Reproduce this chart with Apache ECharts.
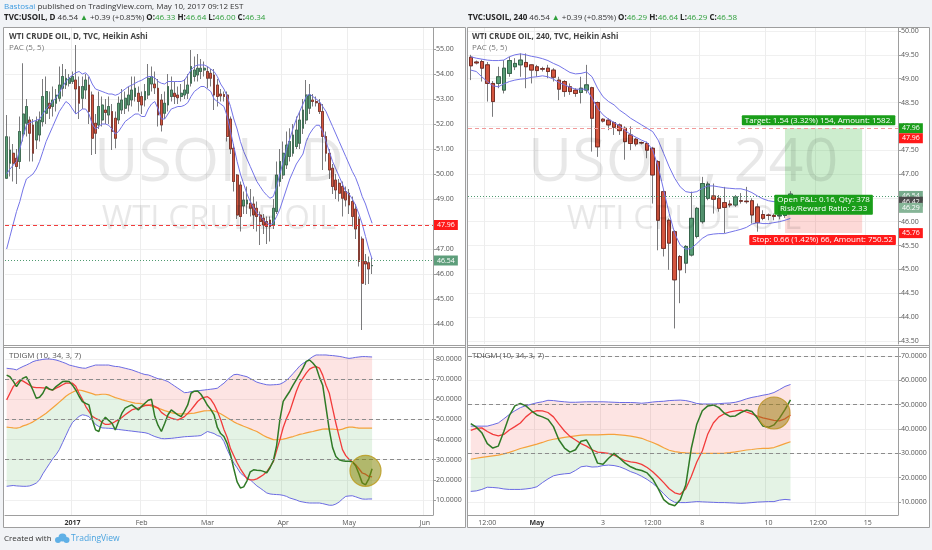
<!DOCTYPE html>
<html><head><meta charset="utf-8">
<script src="https://cdn.jsdelivr.net/npm/echarts@6.0.0/dist/echarts.min.js"></script>
<style>html,body{margin:0;padding:0;background:#f1f3f6;}#c{width:932px;height:550px;}</style>
</head><body><div id="c"></div>
<script>
// ---------- DAILY (left) ----------
const dDays = {
 '2016-12':[2,5,6,7,8,9,12,13,14,15,16,19,20,21,22,23,27,28,29,30],
 '2017-01':[3,4,5,6,9,10,11,12,13,16,17,18,19,20,23,24,25,26,27,30,31],
 '2017-02':[1,2,3,6,7,8,9,10,13,14,15,16,17,20,21,22,23,24,27,28],
 '2017-03':[1,2,3,6,7,8,9,10,13,14,15,16,17,20,21,22,23,24,27,28,29,30,31],
 '2017-04':[3,4,5,6,7,10,11,12,13,14,17,18,19,20,21,24,25,26,27,28],
 '2017-05':[1,2,3,4,5,8,9,10,11,12,15,16,17,18,19,22,23,24,25,26,29,30,31],
 '2017-06':[1,2,5]
};
const dMonthLabel = {'2017-01':'2017','2017-02':'Feb','2017-03':'Mar','2017-04':'Apr','2017-05':'May','2017-06':'Jun'};
const dBoldLabels = ['2017'];
// [open, close, low, high]
const dCandles = [
[49.83,51.49,49.8,52.36],[50.43,50.96,49.9,51.5],[50.83,50.43,49.7,51.2],[50.63,50.3,49.6,51.0],[50.5,51.7,50.2,52.3],
[51.6,52.4,51.3,54.43],[52.03,52.7,51.5,53.0],[52.16,51.63,50.5,52.3],[51.96,50.83,50.5,52.2],[51.36,52.09,51.0,52.3],
[51.56,52.16,51.3,52.5],[52.09,53.1,51.9,53.8],[52.43,53.3,52.0,53.9],[52.83,52.63,52.2,53.3],[52.7,52.96,52.3,53.5],
[52.83,53.16,52.5,53.4],[53.03,53.56,52.9,54.3],[53.43,53.9,53.1,54.4],[53.56,53.83,53.4,54.2],[53.63,53.83,53.5,54.0],
[53.7,53.9,53.6,54.1],[53.76,53.4,52.4,55.16],[53.5,52.83,52.2,53.9],[53.03,53.5,52.6,53.9],[53.36,53.76,53.0,54.0],
[53.56,52.5,52.0,53.9],[53.16,51.43,50.76,53.3],[52.03,51.63,50.8,52.4],[51.96,52.7,51.8,53.3],[52.16,52.76,51.9,53.1],
[52.56,52.46,52.0,53.0],[52.36,52.7,52.0,53.1],[52.5,51.7,50.96,52.8],[52.23,51.43,51.03,52.5],[52.16,52.83,52.0,53.1],
[52.56,52.96,52.4,53.4],[52.63,53.03,52.4,53.3],[52.76,53.16,52.5,53.5],[52.96,53.36,52.7,53.9],[53.1,53.43,52.9,53.9],
[53.23,52.9,52.5,53.5],[53.1,52.76,52.4,53.3],[52.96,53.3,52.7,53.6],[53.16,53.83,53.0,54.4],[53.6,53.9,53.3,54.3],
[53.6,53.45,53.2,54.1],[53.43,52.36,51.9,53.8],[52.96,51.96,51.7,53.2],[52.43,52.83,52.2,53.3],[52.76,53.5,52.5,54.0],
[53.1,53.36,52.9,53.9],[53.23,53.1,52.8,53.7],[53.16,53.05,52.8,53.5],[53.1,53.23,52.9,53.6],[53.16,53.36,53.0,53.8],
[53.23,53.56,53.0,54.0],[53.63,54.3,53.5,54.96],[53.9,54.16,53.7,54.7],[53.96,54.23,53.7,54.8],[54.1,54.23,53.8,54.6],
[54.16,54.23,53.9,54.5],[54.1,53.83,53.43,54.3],[54.03,53.83,53.5,54.2],[53.96,53.16,52.56,54.2],[53.56,53.1,52.7,53.8],
[53.2,53.12,52.9,53.4],[53.18,53.1,52.9,53.3],[53.16,51.5,51.3,53.3],[52.2,51.0,50.8,52.3],[51.03,49.7,49.3,51.2],
[49.96,48.36,48.2,50.0],[49.56,48.3,47.7,49.7],[48.72,48.96,48.4,49.3],[48.8,48.96,48.4,49.5],[48.83,48.63,48.3,49.4],
[48.8,48.36,47.8,49.1],[48.63,48.3,47.7,48.9],[48.36,48.1,47.16,48.5],[48.23,47.96,47.6,48.4],[48.1,47.9,47.2,48.3],
[48.16,47.9,47.3,48.3],[47.96,48.63,47.8,49.0],[48.5,49.96,48.4,50.5],[49.7,50.5,49.5,51.0],[49.96,50.83,49.8,51.3],
[50.36,51.16,50.2,51.7],[50.7,51.3,50.5,51.83],[50.83,51.56,50.7,52.0],[51.1,51.76,51.0,52.3],[51.23,52.16,51.0,52.5],
[51.83,52.56,51.6,53.0],[52.16,53.16,52.0,53.76],[52.63,53.16,52.4,53.6],[52.96,52.9,52.7,53.2],[52.9,52.85,52.7,53.1],
[52.83,52.5,52.4,53.0],[52.5,51.5,50.16,52.8],[51.5,50.83,50.5,51.7],[50.83,50.16,49.8,51.0],[50.23,49.5,49.2,50.4],
[49.76,49.36,49.0,50.0],[49.63,49.23,48.9,49.8],[49.5,49.03,48.3,49.7],[49.3,48.96,48.7,49.5],[49.23,48.76,48.4,49.4],
[48.9,48.3,47.9,49.1],[48.6,47.8,47.4,48.8],[48.2,46.5,46.3,48.3],[47.4,45.63,43.76,47.5],[46.5,46.4,45.56,46.8],
[46.45,46.2,45.6,46.7],[46.33,46.34,46.0,46.64]
];
const dPacHi = [50.0,50.2,50.35,50.5,51.0,51.5,51.95,52.05,52.1,52.15,52.2,52.4,52.6,52.75,52.9,53.05,53.25,53.5,53.7,53.85,
53.95,54.05,54.1,54.0,54.05,53.9,53.6,53.4,53.35,53.3,53.25,53.2,53.2,53.15,53.2,53.3,53.4,53.5,53.55,53.63,
53.7,53.75,53.83,53.9,53.9,53.85,53.7,53.63,53.6,53.7,53.7,53.7,53.7,53.7,53.75,53.95,54.16,54.3,54.36,54.36,
54.36,54.3,54.2,54.1,53.9,53.6,53.4,53.1,52.7,52.2,51.8,51.3,50.9,50.6,50.3,50.0,49.7,49.5,49.3,49.15,
49.03,49.1,49.5,50.0,50.5,51.0,51.4,51.83,52.2,52.5,52.8,53.1,53.2,53.1,53.0,52.9,52.7,52.5,52.2,51.9,
51.6,51.3,51.0,50.7,50.4,50.1,49.85,49.5,49.1,48.8,48.4,48.03];
const dPacLo = [47.0,47.5,48.0,48.5,48.9,49.4,49.8,49.9,50.0,50.2,50.5,50.9,51.3,51.6,51.9,52.2,52.5,52.7,52.9,52.8,
52.6,52.4,52.5,52.6,52.6,52.4,52.0,51.8,51.9,52.0,52.0,51.95,51.8,51.6,51.7,51.9,52.1,52.2,52.3,52.4,
52.4,52.3,52.3,52.6,52.8,52.9,52.6,52.2,52.2,52.4,52.6,52.65,52.7,52.7,52.75,52.85,53.1,53.3,53.4,53.5,
53.5,53.4,53.3,53.0,52.9,52.8,52.7,52.3,51.7,51.1,50.5,50.0,49.6,49.2,48.9,48.65,48.45,48.3,48.15,48.05,
47.96,48.05,48.3,48.6,49.0,49.4,49.8,50.1,50.4,50.6,50.8,51.3,51.6,51.8,51.95,51.95,51.7,51.3,50.9,50.5,
50.2,49.9,49.6,49.3,49.2,49.0,48.75,48.4,48.0,47.5,47.0,46.6];
// TDI (daily)
const dUp = [75.4,75.2,75,74.6,75.5,76.3,77,77.8,78.7,79.2,79.5,79.8,80,80,79.8,79.5,79,78.4,77.8,77,
76.6,76.2,75.8,75.5,75.4,76,76.5,77,77,77,77,77,76.6,76.3,76.2,75.8,75.4,75,74.6,74,
73.4,72.8,72.3,72.1,71.5,70.8,70.2,70,69.4,68.8,67.7,66.6,65.5,64.4,63.3,63.4,63.8,64,64.2,64.4,
64.6,64.8,65,65.2,65.5,66.8,68,69.6,71,72.2,72.4,72,71.6,71.2,70.3,69.4,68.5,68,67.6,67.2,
67.1,67.2,67.3,67.5,68.3,69.4,71,72.8,74.6,76.5,77.8,78.7,80,81.2,82,82,82,82,81.8,81.7,
81.5,81.3,81,80.6,80.3,80.5,80.8,81,81.2,81.2,81.1,81];
const dLo = [16.8,17,17.2,17,16.9,16.8,16.8,17,17.6,18.4,20,23,25.5,28,30.5,32.5,35,38.5,42,45.5,
48.5,50,51.5,52.3,52,51.4,49.5,47.5,46.5,45.8,45.7,45.6,45.5,45.2,45,44.8,44.6,44.4,44.2,44,
43.8,43.6,43.4,43,42.2,41.5,41,40.5,40.4,40.5,40.6,40.8,41,41.2,41.4,41.5,41.6,41.7,41.8,42,
43,44,43.5,43,42,41.5,39,35,31.5,28.3,26,23.4,22,21,20,18.5,17,15.9,14.7,13.5,
13,12.8,12.7,12.6,12.3,11.8,11,10.5,10,9.3,9,8.7,8.5,8.5,8.5,8.5,8.2,7.8,7.4,7.4,
8,9,10.5,11.8,12,12.1,11.6,11,10.5,10.4,10.5,10.5];
const dMid = [46.2,46,45.8,45.7,46,46.8,47.3,48,48.8,49.8,50.8,52,53.1,54.4,55.8,57.2,58.6,60,61.5,62.6,
63.5,64.3,64.6,64.3,63.8,63.3,62.8,62.2,62.3,62.5,62.5,62.2,61.5,60.8,60.4,59.8,59.3,58.9,58.5,58.1,
58,57.8,57.4,57.2,56.6,56,55.6,55,54.4,53.9,53.4,53,52.8,52.8,52.8,52.8,53,53.1,53.5,53.9,
54.2,54.3,54.4,54.2,53.6,52.8,51.8,50.8,49.8,48.8,48,47.3,46.6,46,45.3,44.6,44,43,42,41.2,
40.6,40,39.9,40,40.2,40.6,41.1,41.5,42,42.6,42.9,43.3,43.7,44,44.4,44.8,45.2,45.3,45.2,45.2,
45,44.8,45.2,45.8,46.2,46.2,45.9,45.7,45.7,45.7,45.7,45.7];
const dSig = [59.7,63,66.3,68,69.6,69,68,67,66,65.8,65.8,65.7,65.5,65,64.6,65.5,66.3,67.2,68,68,
68,66.5,63,60,56.5,54,51.5,50.6,49.8,48.5,47.5,47.5,48,49,49.8,51,52.3,53.5,54.7,55.2,
55.6,56.2,56.8,57,57.2,56.5,55.6,53.5,52.3,51.3,50.6,50.2,49.8,50.5,51.4,53,54.7,56.8,58.9,60.3,
61,61.3,60,57.5,54,50,45,41,35.5,32,28.5,25.5,23,20.5,20,20,20.5,21.5,22.5,24,
26.5,29,34.5,40,46,50.5,54,59,64,68,70.5,73,75,75.8,76.2,75.5,72,67,63,55.5,
48.1,41.5,35,32,30.2,29,27.5,25.5,23.4,22.8,21.7,21.5];
const dRsi = [72,71.2,69,66.3,68.8,70.5,71.2,68,64.5,60.5,61,63,66.3,65,64.6,66.3,67.5,68.8,69,68.8,
67,64.6,61.5,58.9,58,57.2,50,44.8,44,49,51.1,49.5,48.1,44.8,49,53.1,55.6,56.5,57.2,56,
54.7,56.5,58,59.5,60,51.4,47,44,48,52.3,54.7,53.5,52.3,51.4,54,57.2,63,64,64.1,62.5,
59.9,57,55,52.3,46,43,41.5,38,32.5,25.5,19,16,16.5,19.5,24,25,24.8,24.7,24.2,23.5,
26,29.5,37,50,59,61.5,64,67,69.8,72.5,75.5,78.8,79.5,78,76,71,67,56,44.8,36,
31.6,30,29.5,29.2,29.2,29,27,23,18.5,17.5,20.5,25.5];
const dPriceTicks = [44,45,46,47,48,49,50,51,52,53,54,55];
const dIndTicks = [10,20,30,40,50,60,70,80];

// ---------- 240 min (right) ----------
const rDays = ['04-27','04-28','05-01','05-02','05-03','05-04','05-05','05-08','05-09','05-10','05-11','05-12','05-15'];
const rHours = ['00:00','04:00','08:00','12:00','16:00','20:00'];
const rTickLabels = {'2017-04-27 12:00':'12:00','2017-05-01 00:00':'May','2017-05-03 00:00':'3','2017-05-04 12:00':'12:00',
 '2017-05-08 00:00':'8','2017-05-10 00:00':'10','2017-05-11 12:00':'12:00','2017-05-15 00:00':'15'};
const rBoldLabels = ['May'];
const rCandles = [
[49.45,49.27,48.97,49.5],[49.35,49.33,49.3,49.38],[49.36,49.22,48.94,49.4],[49.29,48.9,48.52,49.35],[48.9,48.52,48.2,48.95],
[48.9,49.04,48.8,49.25],[48.76,49.22,48.69,49.39],[49.11,49.38,49.04,49.46],[49.25,49.32,49.18,49.43],[49.29,49.39,49.04,49.53],
[49.34,49.25,48.8,49.53],[49.29,49.18,48.9,49.3],[49.25,49.17,49.04,49.29],[49.21,49.2,49.15,49.25],[49.22,49.15,49.01,49.29],
[49.18,49.03,48.94,49.22],[48.97,48.78,48.55,49.04],[48.94,48.73,48.62,48.97],[48.83,48.73,48.66,48.9],[48.76,48.69,48.62,48.8],
[48.71,48.8,48.48,49.04],[48.76,48.87,48.69,49.29],[48.81,48.17,47.47,48.83],[48.5,47.57,47.36,48.52],[48.15,48.11,48.08,48.17],
[48.13,48.03,47.92,48.17],[48.08,47.98,47.82,48.1],[48.03,47.91,47.82,48.06],[47.96,47.68,47.3,48.0],[47.82,47.64,47.5,48.0],
[47.73,47.63,47.58,47.76],[47.66,47.65,47.62,47.68],[47.64,47.5,47.33,47.68],[47.54,46.98,46.38,47.57],[47.26,46.03,45.4,47.29],
[46.63,45.44,45.27,46.66],[46.03,45.55,44.99,46.07],[45.79,44.78,43.76,45.82],[45.27,44.99,44.29,45.3],[45.13,45.48,44.92,45.51],
[45.3,46.07,45.27,46.63],[45.69,46.28,45.65,46.31],[46.0,46.8,45.96,46.94],[46.49,46.79,46.45,46.84],[46.54,46.47,46.17,46.8],
[46.49,46.28,46.21,46.56],[46.4,46.3,45.76,46.73],[46.37,46.35,46.3,46.45],[46.35,46.52,46.31,46.56],[46.44,46.43,46.38,46.6],
[46.43,46.42,46.38,46.73],[46.44,46.14,45.96,46.49],[46.31,45.98,45.79,46.38],[46.15,46.07,46.03,46.24],[46.14,46.13,46.03,46.17],
[46.13,46.11,46.03,46.17],[46.12,46.14,46.05,46.2],[46.13,46.22,46.08,46.3],[46.29,46.58,46.29,46.64]
];
const rPacHi = [49.46,49.43,49.41,49.39,49.38,49.38,49.39,49.46,49.5,49.52,49.5,49.47,49.45,49.42,49.38,49.32,49.27,49.2,49.13,49.1,
49.11,49.14,49.04,48.8,48.62,48.52,48.45,48.34,48.26,48.17,48.1,48.03,47.96,47.89,47.71,47.43,47.15,46.91,46.73,46.63,
46.61,46.63,46.7,46.75,46.75,46.73,46.71,46.7,46.69,46.69,46.66,46.61,46.54,46.48,46.44,46.42,46.42,46.43,46.45];
const rPacLo = [49.18,49.15,49.04,48.94,48.85,48.83,48.89,48.94,48.97,48.99,49.0,49.03,49.04,49.06,49.04,48.99,48.92,48.87,48.82,48.78,
48.78,48.78,48.59,48.38,48.24,48.15,48.08,48.01,47.91,47.83,47.77,47.71,47.66,47.5,47.15,46.66,46.17,45.75,45.51,45.42,
45.44,45.54,45.65,45.72,45.74,45.75,45.75,45.78,45.81,45.84,45.88,45.95,45.98,45.96,45.96,45.98,46.0,46.03,46.07];
const rUp = [41.2,41.2,41.2,41.2,41.8,42.5,44.2,46,47.5,48.8,49.6,50.2,50.8,51.2,51.8,51.7,51.4,51.2,51,51,
51.1,51.2,51.2,51.2,51.2,51.1,51,50.9,50.9,50.9,50.8,50.6,50.8,51.1,51.3,51.4,51.7,51.8,51.9,51.7,
51.2,50.5,50.3,50.3,50.3,50.4,50.6,50.7,51,51.6,52.4,53,53.4,53.9,54.3,55,56.2,57.5,58.3];
const rLo = [14.4,14.6,15.2,16.1,16,15.8,15.4,15.2,15.2,15.2,15.4,15.7,16.3,18,19.5,20.8,21.3,21.6,21.8,23,
24.5,24.8,24.4,24.5,25,25.2,25,24.5,23.6,22.5,21.7,20.6,19.3,17.7,15.8,13.4,11.2,9.9,9.8,9.8,
10,10.2,10.1,10,9.9,9.8,9.8,9.7,9.6,9.5,9.6,9.8,10,10.1,10.2,10.2,10.8,11.1,10.9];
const rMid = [27.6,28,28.4,28.7,29,29.3,29.8,30.4,31.2,32,32.6,33.2,33.8,34.5,35.3,35.8,36.2,36.6,36.9,37.2,
37.5,37.6,37.6,37.6,37.7,37.8,37.8,37.6,37.4,37.1,36.7,36.2,35.3,34.5,33.5,32.3,31.3,30.7,30.4,30.2,
30.1,30,30,30,30,30,30.1,30.3,30.6,31,31.4,31.6,31.9,32.1,32.1,32.4,33.2,34,34.8];
const rSig = [39.5,40.3,40.5,39,37.8,37.2,37.8,39.6,41,42.5,45,46.8,47.6,47.5,46.8,45,42,39.2,37,35.5,
34,33,31.5,30.5,30.3,30,29.3,28.2,27,26.5,26.2,25.5,24.2,22.5,20.3,18,15.5,13.8,13.2,15.5,
20.5,26.5,31,38,42.5,45,46.3,47.1,47.5,47.8,47,46.2,45.3,44.6,44.1,43.6,43.4,44.2,45.8];
const rRsi = [42.2,40.8,38.5,34,32.2,33,39,45.5,49.5,50.5,49.5,47.5,45.8,45,44,41,35.5,32.2,30.5,31.5,
35,35.5,31.5,26,25.5,28,30,28,26,24.5,23.5,23,22,19.5,15.5,11,9.2,8.5,11,17,
32,42,47.5,49.5,49.9,48.8,46.5,45.2,45.4,46.8,47.8,47.2,44.5,41.2,40.7,41.7,44.5,48,52];
const rPriceTicks = [43.5,44,44.5,45,45.5,46,46.5,47,47.5,48,48.5,49,49.5,50];
const rIndTicks = [10,20,30,40,50,60,70];

// position tool values (right)
const posTarget = 47.96, posEntry = 46.42, posStop = 45.76, lastPrice = 46.54;

// ---------- build ----------
const pad = n => String(n).padStart(2,'0');
const dCats = [], dLabelMap = {};
for (const m in dDays) {
  dDays[m].forEach((d, k) => {
    const c = m + '-' + pad(d);
    dCats.push(c);
    if (k === 0 && dMonthLabel[m]) dLabelMap[c] = dMonthLabel[m];
  });
}
const rCats = [];
rDays.forEach(d => rHours.forEach(h => rCats.push('2017-' + d + ' ' + h)));

const F = 'Open Sans, Lato, sans-serif';
const GRID = '#9e9e9e';
const bodies = arr => arr.map(c => [c[0], c[1], Math.min(c[0], c[1]), Math.max(c[0], c[1])]);
const diff = (a, b) => a.map((v, i) => v - b[i]);

function catAxis(gi, cats, labelMap, bold, showLabels) {
  const has = (i, v) => labelMap[v] !== undefined;
  return {
    type: 'category', gridIndex: gi, data: cats, boundaryGap: true,
    axisLine: {show: showLabels, lineStyle: {color: GRID}},
    axisTick: {show: false},
    axisLabel: {show: showLabels, interval: has, margin: 4,
      formatter: v => { const t = labelMap[v]; return bold.indexOf(t) >= 0 ? '{b|' + t + '}' : '{n|' + t + '}'; },
      rich: {b: {fontWeight: 'bold', color: '#333', fontSize: 7, fontFamily: F}, n: {color: '#555', fontSize: 7, fontFamily: F}}},
    splitLine: {show: true, interval: has, lineStyle: {color: '#ededed', width: 1}}
  };
}
function valAxis(gi, min, max, ticks, digits) {
  return {
    type: 'value', gridIndex: gi, position: 'right', min: min, max: max,
    axisLine: {show: true, lineStyle: {color: GRID}},
    axisTick: {show: true, length: 3, lineStyle: {color: GRID}, customValues: ticks},
    axisLabel: {customValues: ticks, formatter: v => v.toFixed(digits), fontSize: 7, color: '#555', margin: 3, fontFamily: F},
    splitLine: {show: true, lineStyle: {color: '#f0f0f0'}}
  };
}
const tagLabel = {show: true, position: 'end', color: '#fff', fontSize: 7, fontFamily: F, padding: [2, 3, 1, 3], distance: 1};
const HIDDEN_LINE = {color: 'rgba(0,0,0,0)', width: 1};
function tag(v, text, bg, line, offset) {
  return {yAxis: v, lineStyle: line || HIDDEN_LINE,
    label: Object.assign({}, tagLabel, {formatter: text, backgroundColor: bg}, offset ? {offset: offset} : {})};
}
function candleSeries(xi, yi, data, bw, bwid, extra) {
  const wick = {type: 'candlestick', xAxisIndex: xi, yAxisIndex: yi, data: data, barWidth: bw, silent: true,
    itemStyle: {color: '#7a7a7c', color0: '#7a7a7c', borderColor: '#7a7a7c', borderColor0: '#7a7a7c', borderWidth: 1}};
  const body = Object.assign({type: 'candlestick', xAxisIndex: xi, yAxisIndex: yi, data: bodies(data), barWidth: bw, silent: true,
    itemStyle: {color: '#5a9e77', color0: '#d4553e', borderColor: '#2a5c40', borderColor0: '#6e231a', borderWidth: bwid}}, extra || {});
  return [wick, body];
}
function lineS(xi, yi, data, color, width, extra) {
  return Object.assign({type: 'line', xAxisIndex: xi, yAxisIndex: yi, data: data, symbol: 'none', silent: true,
    lineStyle: {color: color, width: width}, z: 3}, extra || {});
}
function tdiSeries(xi, yi, up, lo, mid, sig, rsi, circle, stackId) {
  return [
    lineS(xi, yi, lo, 'transparent', 0, {stack: stackId, lineStyle: {width: 0, opacity: 0}, z: 1}),
    lineS(xi, yi, diff(mid, lo), 'transparent', 0, {stack: stackId, lineStyle: {width: 0, opacity: 0}, areaStyle: {color: 'rgba(76,175,80,0.15)', opacity: 1}, z: 1}),
    lineS(xi, yi, diff(up, mid), 'transparent', 0, {stack: stackId, lineStyle: {width: 0, opacity: 0}, areaStyle: {color: 'rgba(244,67,54,0.14)', opacity: 1}, z: 1}),
    lineS(xi, yi, up, '#6b6be3', 1),
    lineS(xi, yi, lo, '#6b6be3', 1),
    lineS(xi, yi, mid, '#f5a13c', 1.2),
    lineS(xi, yi, sig, '#f23b3b', 1.3, {markLine: {silent: true, symbol: ['none', 'none'], label: {show: false},
      lineStyle: {color: '#8c8c8c', type: [4, 3], width: 1}, data: [{yAxis: 70}, {yAxis: 50}, {yAxis: 30}]}}),
    lineS(xi, yi, rsi, '#2f7a26', 1.5, {z: 4, markPoint: {silent: true, symbol: 'circle', label: {show: false},
      data: [{coord: circle.coord, symbolSize: circle.size, itemStyle: {color: circle.color, borderColor: circle.border, borderWidth: 1.2}}]}})
  ];
}

const series = [];
// left price
series.push(...candleSeries(0, 0, dCandles, 2.3, 0.6, {markLine: {silent: true, symbol: ['none', 'none'], data: [
  tag(47.96, '47.96', '#ff1a1a', {color: '#f23c3c', type: [4, 3], width: 1}),
  tag(lastPrice, '46.54', '#5e9e7b', {color: '#4f9a70', type: [1, 2], width: 1})
]}}));
series.push(lineS(0, 0, dPacHi, '#7474e8', 1), lineS(0, 0, dPacLo, '#7474e8', 1));
// left TDI
series.push(...tdiSeries(1, 1, dUp, dLo, dMid, dSig, dRsi,
  {coord: [109, 24.5], size: 31, color: 'rgba(135,135,10,0.55)', border: 'rgba(190,160,40,0.9)'}, 'L'));
// right price
series.push(...candleSeries(2, 2, rCandles, 4, 0.8, {
  markArea: {silent: true, data: [
    [{xAxis: 57, yAxis: posTarget, itemStyle: {color: 'rgba(76,190,80,0.28)'}}, {xAxis: 71, yAxis: posEntry}],
    [{xAxis: 57, yAxis: posEntry, itemStyle: {color: 'rgba(244,67,54,0.2)'}}, {xAxis: 71, yAxis: posStop}]
  ]},
  markLine: {silent: true, symbol: ['none', 'none'], data: [
    tag(posTarget, '47.96', '#1a9e1a', {color: '#f19a9a', type: [4, 3], width: 1}),
    tag(posTarget, '47.96', '#ff1a1a', null, [0, 10]),
    tag(lastPrice, '46.54', '#77ab8c', {color: '#4f9a70', type: [1, 2], width: 1}),
    tag(posEntry, '46.42', '#4a4a4a'),
    tag(46.29, '46.29', '#86b597'),
    tag(posStop, '45.76', '#ff1a1a')
  ]},
  markPoint: {silent: true, symbol: 'rect', symbolSize: [1, 1], itemStyle: {color: 'rgba(0,0,0,0)'},
    label: {show: true, position: 'inside', color: '#fff', fontSize: 8, fontFamily: F, padding: [1, 3], borderRadius: 1},
    data: [
      {coord: [64, posTarget], label: {formatter: 'Target: 1.54 (3.32%) 154, Amount: 1582.', backgroundColor: '#1a9e1a', offset: [-5, -8]}},
      {coord: [64, posEntry], label: {formatter: 'Open P&L: 0.16, Qty: 378\nRisk/Reward Ratio: 2.33', backgroundColor: '#1a9e1a', offset: [0, 3], lineHeight: 9, align: 'center'}},
      {coord: [64, posStop], label: {formatter: 'Stop: 0.66 (1.42%) 66, Amount: 750.52', backgroundColor: '#ff1a1a', offset: [-1, 7]}}
    ]}
}));
series.push(lineS(2, 2, rPacHi, '#7474e8', 1), lineS(2, 2, rPacLo, '#7474e8', 1));
// right TDI
series.push(...tdiSeries(3, 3, rUp, rLo, rMid, rSig, rRsi,
  {coord: [55, 46.6], size: 32, color: 'rgba(160,125,20,0.55)', border: 'rgba(190,150,40,0.9)'}, 'R'));

function txt(x, y, text, style) {
  return {type: 'text', x: x, y: y, z: 20, silent: true,
    style: Object.assign({text: text, fontSize: 8, fontFamily: F, fill: '#333', verticalAlign: 'middle', align: 'left'}, style || {})};
}
const R = (fill, weight) => ({fill: fill, fontSize: 8, fontFamily: F, fontWeight: weight || 'normal'});
const richHdr = {b: R('#222', 'bold'), g: R('#2e9e3a'), n: R('#333')};
const graphics = [
  {type: 'rect', z: -10, silent: true, shape: {x: 3.5, y: 27.5, width: 462, height: 500}, style: {fill: '#fff', stroke: GRID, lineWidth: 1}},
  {type: 'rect', z: -10, silent: true, shape: {x: 467.5, y: 27.5, width: 462, height: 500}, style: {fill: '#fff', stroke: GRID, lineWidth: 1}},
  {type: 'line', z: 5, silent: true, shape: {x1: 3.5, y1: 345.5, x2: 465.5, y2: 345.5}, style: {stroke: GRID, lineWidth: 1}},
  {type: 'line', z: 5, silent: true, shape: {x1: 3.5, y1: 347.5, x2: 465.5, y2: 347.5}, style: {stroke: GRID, lineWidth: 1}},
  {type: 'line', z: 5, silent: true, shape: {x1: 467.5, y1: 345.5, x2: 929.5, y2: 345.5}, style: {stroke: GRID, lineWidth: 1}},
  {type: 'line', z: 5, silent: true, shape: {x1: 467.5, y1: 347.5, x2: 929.5, y2: 347.5}, style: {stroke: GRID, lineWidth: 1}},
  // watermarks
  txt(219, 164, 'USOIL, D', {fontSize: 61, fill: 'rgba(0,0,0,0.09)', align: 'center'}),
  txt(219, 220, 'WTI CRUDE OIL', {fontSize: 33, fill: 'rgba(0,0,0,0.09)', align: 'center'}),
  txt(683, 164, 'USOIL, 240', {fontSize: 61, fill: 'rgba(0,0,0,0.09)', align: 'center'}),
  txt(684, 220, 'WTI CRUDE OIL', {fontSize: 33, fill: 'rgba(0,0,0,0.09)', align: 'center'}),
  // header
  txt(4, 7, '{a|Bastosai} published on TradingView.com, May 10, 2017 09:12 EST', {rich: {a: R('#3d9be0')}}),
  txt(4, 18, '{b|TVC:USOIL, D} {n|46.54} {g|▲} {n|+0.39 (+0.85%)} {b|O:}{g|46.33} {b|H:}{g|46.64} {b|L:}{g|46.00} {b|C:}{g|46.34}', {rich: richHdr}),
  txt(468, 18, '{b|TVC:USOIL, 240} {n|46.54} {g|▲} {n|+0.39 (+0.85%)} {b|O:}{g|46.29} {b|H:}{g|46.64} {b|L:}{g|46.29} {b|C:}{g|46.58}', {rich: richHdr}),
  // pane titles
  txt(9, 37, 'WTI CRUDE OIL, D, TVC, Heikin Ashi', {fontWeight: 'bold', fill: '#444'}),
  txt(9, 48, 'PAC (5, 5)', {fill: '#777'}),
  txt(9, 356, 'TDIGM (10, 34, 3, 7)', {fill: '#555'}),
  txt(472, 37, 'WTI CRUDE OIL, 240, TVC, Heikin Ashi', {fontWeight: 'bold', fill: '#444'}),
  txt(472, 48, 'PAC (5, 5)', {fill: '#777'}),
  txt(472, 356, 'TDIGM (10, 34, 3, 7)', {fill: '#555'}),
  // footer
  txt(4, 539, 'Created with', {fill: '#333'}),
  {type: 'circle', z: 20, silent: true, shape: {cx: 58, cy: 540, r: 3}, style: {fill: '#5fb0e6'}},
  {type: 'circle', z: 20, silent: true, shape: {cx: 62.5, cy: 537.5, r: 4}, style: {fill: '#5fb0e6'}},
  {type: 'circle', z: 20, silent: true, shape: {cx: 66.5, cy: 540, r: 3}, style: {fill: '#5fb0e6'}},
  txt(71, 539, 'TradingView', {fill: '#4aa3df', fontSize: 8.5})
];

const option = {
  animation: false,
  backgroundColor: '#f1f3f6',
  grid: [
    {left: 5, top: 28, width: 428, height: 316},
    {left: 5, top: 348, width: 428, height: 167},
    {left: 468, top: 28, width: 430, height: 316},
    {left: 468, top: 348, width: 430, height: 167}
  ],
  xAxis: [
    catAxis(0, dCats, dLabelMap, dBoldLabels, false),
    catAxis(1, dCats, dLabelMap, dBoldLabels, true),
    catAxis(2, rCats, rTickLabels, rBoldLabels, false),
    catAxis(3, rCats, rTickLabels, rBoldLabels, true)
  ],
  yAxis: [
    valAxis(0, 43.2, 55.84, dPriceTicks, 2),
    valAxis(1, 2.55, 85.46, dIndTicks, 4),
    valAxis(2, 43.434, 50.063, rPriceTicks, 2),
    valAxis(3, 4.7, 73.29, rIndTicks, 4)
  ],
  series: series,
  graphic: {elements: graphics}
};
const chart = echarts.init(document.getElementById('c'));
chart.setOption(option);
</script></body></html>
